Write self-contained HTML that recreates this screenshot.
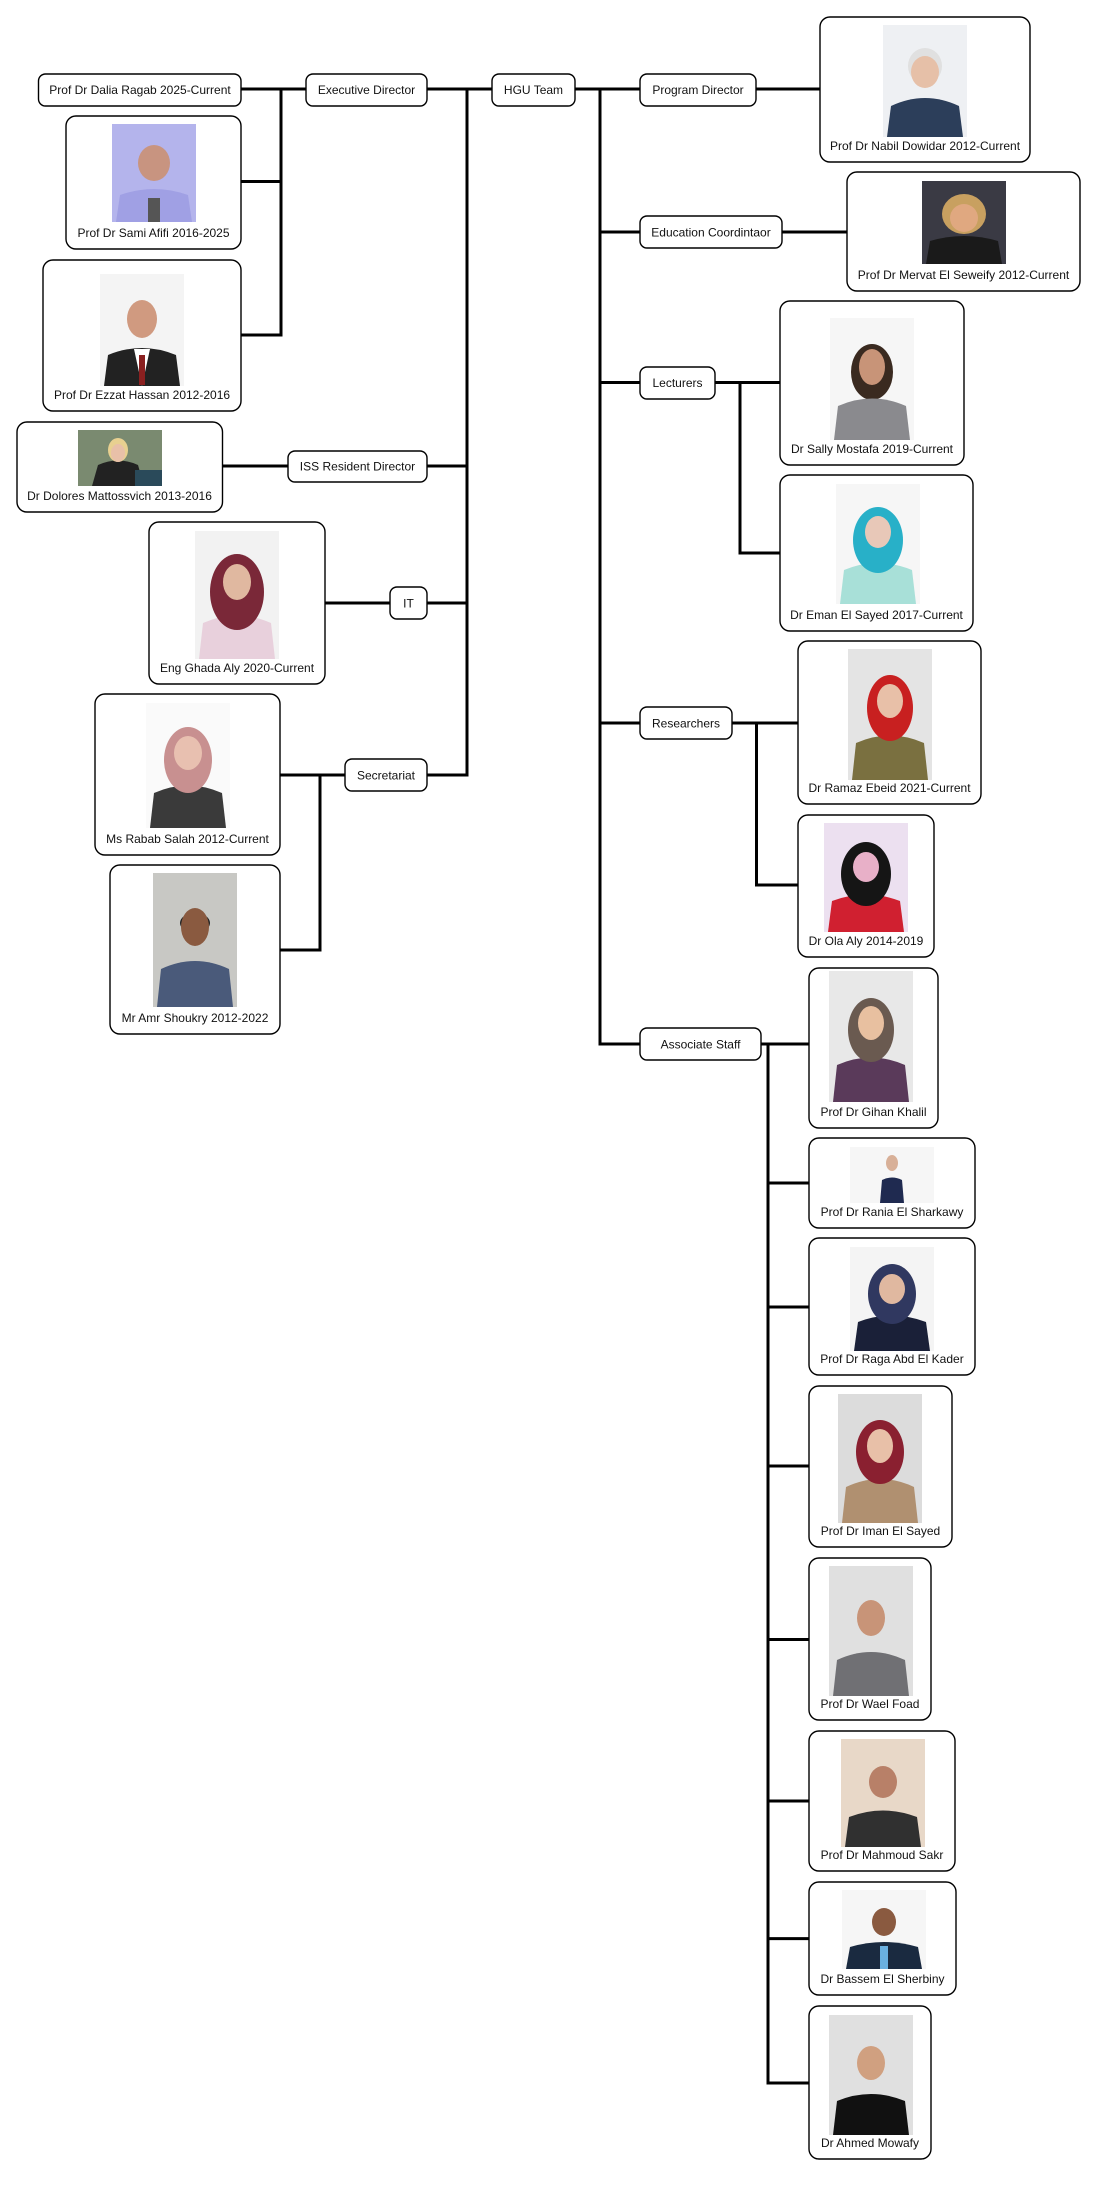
<!DOCTYPE html>
<html><head><meta charset="utf-8"><style>
html,body{margin:0;padding:0;background:#fff;}
svg{display:block;}
text{font-family:"Liberation Sans",Arial,sans-serif;font-size:12px;fill:#111;text-anchor:middle;}
.b{fill:#fff;stroke:#000;stroke-width:1.4;}
.l{stroke:#000;stroke-width:3;fill:none;stroke-linecap:square;}
</style></head><body>
<svg width="1097" height="2187" viewBox="0 0 1097 2187" xmlns="http://www.w3.org/2000/svg">
<!-- connectors -->
<g class="l">
<path d="M241 89H306M427 89H492M575 89H640M756 89H820"/>
<path d="M281 89V335M241 181.5H281M241 335H281"/>
<path d="M467 89V775M427 466H467M427 603H467M427 775H467"/>
<path d="M222.5 466H288M325 603H390M280 775H345M320 775V950M280 950H320"/>
<path d="M600 89V1044M600 232H640M600 382.5H640M600 723H640M600 1044H640"/>
<path d="M782 232H847M715 382.5H780M740 382.5V553M740 553H780"/>
<path d="M732 723H798M756.5 723V885M756.5 885H798"/>
<path d="M761 1044H809M768 1044V2083M768 1183H809M768 1307H809M768 1466H809M768 1639.5H809M768 1801H809M768 1938.6H809M768 2083H809"/>
</g>
<!-- small boxes -->
<rect class="b" x="38.5" y="74" width="202.5" height="32" rx="7"/><text x="140" y="94">Prof Dr Dalia Ragab 2025-Current</text>
<rect class="b" x="306" y="74" width="121" height="32" rx="7"/><text x="366.5" y="94">Executive Director</text>
<rect class="b" x="492" y="74" width="83" height="32" rx="7"/><text x="533.5" y="94">HGU Team</text>
<rect class="b" x="640" y="74" width="116" height="32" rx="7"/><text x="698" y="94">Program Director</text>
<rect class="b" x="288" y="451" width="139" height="31" rx="7"/><text x="357.5" y="470.5">ISS Resident Director</text>
<rect class="b" x="390" y="587" width="37" height="32" rx="7"/><text x="408.5" y="607.5">IT</text>
<rect class="b" x="345" y="759" width="82" height="32" rx="7"/><text x="386" y="779.5">Secretariat</text>
<rect class="b" x="640" y="216" width="142" height="32" rx="7"/><text x="711" y="236.5">Education Coordintaor</text>
<rect class="b" x="640" y="367" width="75" height="32" rx="7"/><text x="677.5" y="387">Lecturers</text>
<rect class="b" x="640" y="707" width="92" height="32" rx="7"/><text x="686" y="727.5">Researchers</text>
<rect class="b" x="640" y="1028" width="121" height="32" rx="7"/><text x="700.5" y="1048.5">Associate Staff</text>
<!-- cards -->
<rect class="b" x="820" y="17" width="210" height="145" rx="10"/><text x="925" y="150">Prof Dr Nabil Dowidar 2012-Current</text>
<rect class="b" x="847" y="172" width="233" height="119" rx="10"/><text x="963.5" y="279">Prof Dr Mervat El Seweify 2012-Current</text>
<rect class="b" x="66" y="116" width="175" height="133" rx="10"/><text x="153.5" y="237">Prof Dr Sami Afifi 2016-2025</text>
<rect class="b" x="43" y="260" width="198" height="151" rx="10"/><text x="142" y="399">Prof Dr Ezzat Hassan 2012-2016</text>
<rect class="b" x="17" y="422" width="205.5" height="90" rx="10"/><text x="119.5" y="500">Dr Dolores Mattossvich 2013-2016</text>
<rect class="b" x="149" y="522" width="176" height="162" rx="10"/><text x="237" y="672">Eng Ghada Aly 2020-Current</text>
<rect class="b" x="95" y="694" width="185" height="161" rx="10"/><text x="187.5" y="843">Ms Rabab Salah 2012-Current</text>
<rect class="b" x="110" y="865" width="170" height="169" rx="10"/><text x="195" y="1022">Mr Amr Shoukry 2012-2022</text>
<rect class="b" x="780" y="301" width="184" height="164" rx="10"/><text x="872" y="453">Dr Sally Mostafa 2019-Current</text>
<rect class="b" x="780" y="475" width="193" height="156" rx="10"/><text x="876.5" y="619">Dr Eman El Sayed 2017-Current</text>
<rect class="b" x="798" y="641" width="183" height="163" rx="10"/><text x="889.5" y="792">Dr Ramaz Ebeid 2021-Current</text>
<rect class="b" x="798" y="815" width="136" height="142" rx="10"/><text x="866" y="945">Dr Ola Aly 2014-2019</text>
<rect class="b" x="809" y="968" width="129" height="160" rx="10"/><text x="873.5" y="1116">Prof Dr Gihan Khalil</text>
<rect class="b" x="809" y="1138" width="166" height="90" rx="10"/><text x="892" y="1216">Prof Dr Rania El Sharkawy</text>
<rect class="b" x="809" y="1238" width="166" height="137" rx="10"/><text x="892" y="1363">Prof Dr Raga Abd El Kader</text>
<rect class="b" x="809" y="1386" width="143" height="161" rx="10"/><text x="880.5" y="1535">Prof Dr Iman El Sayed</text>
<rect class="b" x="809" y="1558" width="122" height="162" rx="10"/><text x="870" y="1708">Prof Dr Wael Foad</text>
<rect class="b" x="809" y="1731" width="146" height="140" rx="10"/><text x="882" y="1859">Prof Dr Mahmoud Sakr</text>
<rect class="b" x="809" y="1882" width="147" height="113" rx="10"/><text x="882.5" y="1983">Dr Bassem El Sherbiny</text>
<rect class="b" x="809" y="2006" width="122" height="153" rx="10"/><text x="870" y="2147">Dr Ahmed Mowafy</text>
<!-- photos -->
<g>
<rect x="883" y="25" width="84" height="112" fill="#eef0f3"/><path d="M887 137L891 106Q925 90 959 106L963 137Z" fill="#2c3e5a"/><ellipse cx="925" cy="66" rx="17" ry="18" fill="#e0e0e0"/><ellipse cx="925" cy="72" rx="14" ry="16" fill="#e6c0a8"/>
<rect x="922" y="181" width="84" height="83" fill="#3a3a44"/><ellipse cx="964" cy="214" rx="22" ry="20" fill="#c8a060"/><path d="M926 264L930 241Q964 231 998 241L1002 264Z" fill="#1a1a1a"/><ellipse cx="964" cy="218" rx="14" ry="14" fill="#e0a880"/>
<rect x="112" y="124" width="84" height="98" fill="#b4b4ec"/><path d="M116 222L120 195Q154 183 188 195L192 222Z" fill="#a0a0e4"/><rect x="148" y="198" width="12" height="24" fill="#555"/><ellipse cx="154" cy="163" rx="16" ry="18" fill="#c89480"/>
<rect x="100" y="274" width="84" height="112" fill="#f4f4f4"/><path d="M104 386L108 355Q142 341 176 355L180 386Z" fill="#222"/><path d="M134 349L142 386L150 349Z" fill="#fff"/><rect x="139" y="355" width="6" height="30" fill="#8a2020"/><ellipse cx="142" cy="319" rx="15" ry="19" fill="#d09a80"/>
<rect x="78" y="430" width="84" height="56" fill="#7a8a70"/><path d="M92 486L98 465Q118 456 138 465L144 486Z" fill="#222"/><ellipse cx="118" cy="450" rx="10" ry="12" fill="#e8d090"/><ellipse cx="118" cy="453" rx="7" ry="9" fill="#e8c0a8"/><rect x="135" y="470" width="27" height="16" fill="#2a4a5a"/>
<rect x="195" y="531" width="84" height="128" fill="#f2f2f2"/><path d="M199 659L203 623Q237 608 271 623L275 659Z" fill="#e8d0dc"/><ellipse cx="237" cy="592" rx="27" ry="38" fill="#7a2838"/><ellipse cx="237" cy="582" rx="14" ry="18" fill="#e0b8a0"/>
<rect x="146" y="703" width="84" height="125" fill="#fafafa"/><path d="M150 828L154 793Q188 778 222 793L226 828Z" fill="#3a3a3a"/><ellipse cx="188" cy="760" rx="24" ry="33" fill="#c89090"/><ellipse cx="188" cy="753" rx="14" ry="17" fill="#e8c0b0"/>
<rect x="153" y="873" width="84" height="134" fill="#c8c8c4"/><path d="M157 1007L161 969Q195 953 229 969L233 1007Z" fill="#4a5a7a"/><ellipse cx="195" cy="923" rx="15" ry="10" fill="#222"/><ellipse cx="195" cy="927" rx="14" ry="19" fill="#8a5a40"/>
<rect x="830" y="318" width="84" height="122" fill="#f6f6f6"/><ellipse cx="872" cy="372" rx="21" ry="28" fill="#3a2a20"/><path d="M834 440L838 406Q872 391 906 406L910 440Z" fill="#8a8a8e"/><ellipse cx="872" cy="367" rx="13" ry="18" fill="#c89478"/>
<rect x="836" y="484" width="84" height="120" fill="#f6f6f6"/><path d="M840 604L844 570Q878 556 912 570L916 604Z" fill="#a8e0d8"/><ellipse cx="878" cy="540" rx="25" ry="33" fill="#28b0c8"/><ellipse cx="878" cy="532" rx="13" ry="16" fill="#e8c8b8"/>
<rect x="848" y="649" width="84" height="131" fill="#e4e4e4"/><path d="M852 780L856 743Q890 728 924 743L928 780Z" fill="#7a7040"/><ellipse cx="890" cy="708" rx="23" ry="33" fill="#c82020"/><ellipse cx="890" cy="701" rx="13" ry="17" fill="#e8c0a8"/>
<rect x="824" y="823" width="84" height="109" fill="#ece0f0"/><path d="M828 932L832 901Q866 888 900 901L904 932Z" fill="#d02030"/><ellipse cx="866" cy="874" rx="25" ry="32" fill="#151515"/><ellipse cx="866" cy="867" rx="13" ry="15" fill="#e8b0c8"/>
<rect x="829" y="971" width="84" height="131" fill="#e8e8e8"/><path d="M833 1102L837 1065Q871 1050 905 1065L909 1102Z" fill="#5a3a5a"/><ellipse cx="871" cy="1030" rx="23" ry="32" fill="#6a5a50"/><ellipse cx="871" cy="1023" rx="13" ry="17" fill="#e8c0a0"/>
<rect x="850" y="1147" width="84" height="56" fill="#f6f6f6"/><path d="M880 1203L882 1180Q892 1175 902 1180L904 1203Z" fill="#1f2a50"/><ellipse cx="892" cy="1163" rx="6" ry="8" fill="#d8b098"/>
<rect x="850" y="1247" width="84" height="104" fill="#f4f4f4"/><path d="M854 1351L858 1322Q892 1309 926 1322L930 1351Z" fill="#1a2038"/><ellipse cx="892" cy="1294" rx="24" ry="30" fill="#303860"/><ellipse cx="892" cy="1289" rx="13" ry="15" fill="#e0b8a0"/>
<rect x="838" y="1394" width="84" height="129" fill="#dcdcdc"/><path d="M842 1523L846 1487Q880 1471 914 1487L918 1523Z" fill="#b09070"/><ellipse cx="880" cy="1452" rx="24" ry="32" fill="#8a2030"/><ellipse cx="880" cy="1446" rx="13" ry="17" fill="#e8c0a8"/>
<rect x="829" y="1566" width="84" height="130" fill="#e0e0e0"/><path d="M833 1696L837 1660Q871 1644 905 1660L909 1696Z" fill="#707074"/><ellipse cx="871" cy="1618" rx="14" ry="18" fill="#c89478"/>
<rect x="841" y="1739" width="84" height="108" fill="#e8d8c8"/><path d="M845 1847L849 1817Q883 1804 917 1817L921 1847Z" fill="#303030"/><ellipse cx="883" cy="1782" rx="14" ry="16" fill="#b88068"/>
<rect x="842" y="1890" width="84" height="79" fill="#f6f6f6"/><path d="M846 1969L850 1947Q884 1937 918 1947L922 1969Z" fill="#1a2a40"/><rect x="880" y="1946" width="8" height="23" fill="#6ab0e0"/><ellipse cx="884" cy="1922" rx="12" ry="14" fill="#8a5a40"/>
<rect x="829" y="2015" width="84" height="120" fill="#e0e0e0"/><path d="M833 2135L837 2101Q871 2087 905 2101L909 2135Z" fill="#111"/><ellipse cx="871" cy="2063" rx="14" ry="17" fill="#d0a080"/>
</g>
</svg>
</body></html>
